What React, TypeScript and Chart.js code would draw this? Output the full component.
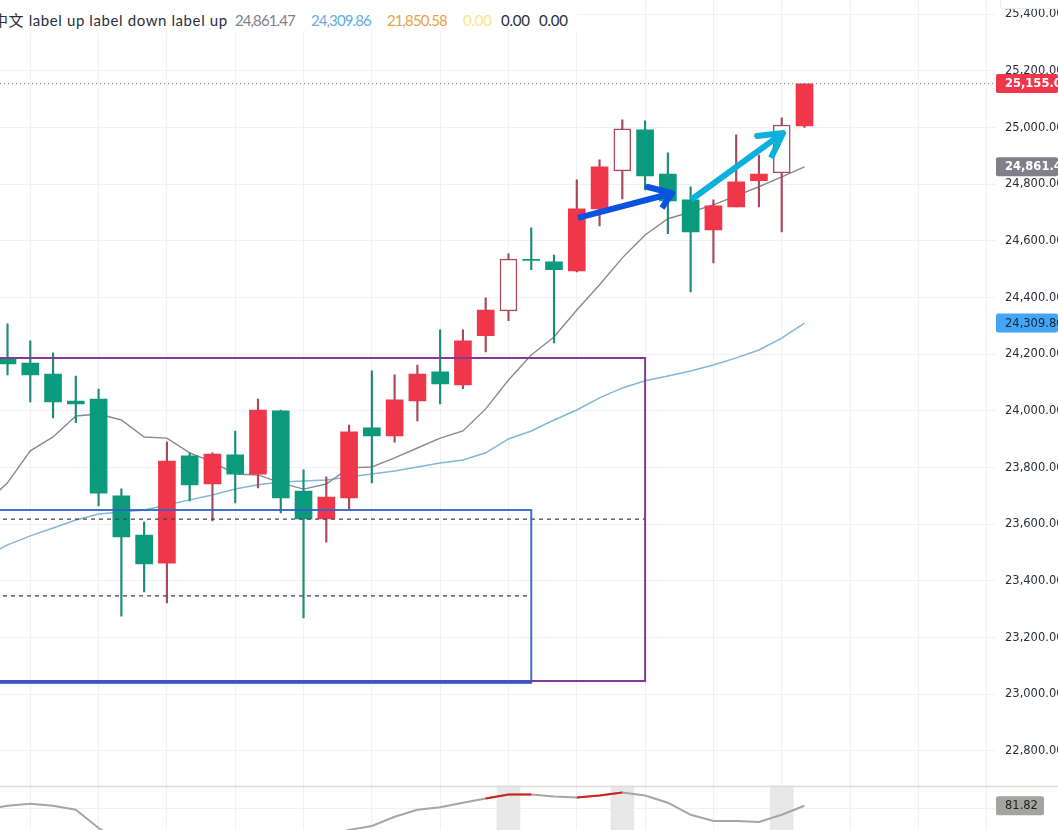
import React, { useEffect, useRef } from "react";
import Chart from "chart.js/auto";

// candles, oldest first
const opens = [24187, 24169, 24130, 24035, 24042, 23700, 23562, 23463, 23841, 23742, 23845, 23777, 24000, 23717, 23619, 23693, 23940, 23912, 24035, 24138, 24092, 24265, 24353, 24535, 24526, 24494, 24713, 24847, 24992, 24836, 24745, 24639, 24720, 24812, 24840, 25006];
const highs = [24307, 24247, 24205, 24123, 24077, 23725, 23608, 23890, 23852, 23852, 23929, 24042, 24003, 23792, 23767, 23950, 24141, 24127, 24162, 24286, 24286, 24399, 24554, 24646, 24550, 24815, 24886, 25027, 25024, 24911, 24791, 24745, 24974, 24903, 25034, 25155];
const lows = [24127, 24032, 23975, 23958, 23665, 23276, 23361, 23322, 23682, 23612, 23675, 23728, 23640, 23269, 23537, 23654, 23746, 23890, 23965, 24025, 24078, 24208, 24318, 24498, 24240, 24490, 24653, 24748, 24780, 24625, 24420, 24522, 24720, 24720, 24632, 25000];
const closes = [24166, 24127, 24032, 24025, 23710, 23555, 23460, 23823, 23739, 23848, 23777, 24003, 23693, 23619, 23696, 23926, 23912, 24039, 24130, 24095, 24247, 24356, 24536, 24531, 24498, 24713, 24861, 24995, 24829, 24741, 24632, 24724, 24808, 24836, 25009, 25154];
const hollowCandles = [22, 27, 34];

// these start one candle earlier (index -1), off the left edge
const maFast = [23672, 23746, 23859, 23908, 23982, 23989, 23968, 23908, 23904, 23852, 23820, 23777, 23774, 23746, 23724, 23742, 23799, 23802, 23834, 23869, 23904, 23929, 24007, 24109, 24197, 24261, 24356, 24445, 24540, 24621, 24678, 24702, 24727, 24759, 24791, 24826, 24861.47];
const maSlow = [23484, 23527, 23559, 23587, 23615, 23636, 23643, 23650, 23668, 23686, 23703, 23724, 23739, 23749, 23753, 23756, 23767, 23777, 23788, 23802, 23816, 23827, 23852, 23901, 23929, 23968, 24003, 24046, 24081, 24106, 24123, 24141, 24162, 24187, 24215, 24257, 24309.86];
const oscValues = [79.5, 81.8, 83, 81.8, 79.4, 68.5, 60, 55, 56.4, 52, 49, 52, 50.3, 55, 58, 64.3, 67.3, 69.7, 75.2, 79.4, 80.9, 83.6, 86.1, 88.5, 88.5, 87.3, 86.7, 87.9, 89.7, 87.9, 83.6, 76.4, 72.7, 72.7, 72.1, 76.4, 81.82];
const oscHot = [21, 22, 23, 25, 26, 27];

const gridIndices = [1, 4, 7, 10, 13, 16, 19, 22, 25, 28, 31, 34, 37, 40, 43];
const priceTicks = [25400, 25200, 25000, 24800, 24600, 24400, 24200, 24000, 23800, 23600, 23400, 23200, 23000, 22800];

// drawings on the chart, [candle index, price]
const purpleBox = [[-1, 24187], [28, 24187], [28, 23047], [-1, 23047]];
const blueBox = [[-1, 23650], [23, 23650], [23, 23041], [-1, 23041]];
const boxOverlap = [[-1, 23044], [23, 23044]];
const purpleMid = [[-0.2, 23618], [28, 23618]];
const blueMid = [[-0.2, 23347], [23, 23347]];
const blueArrow = [[25.05, 24681], [29.18, 24768], [28.12, 24790], [29.18, 24768], [28.74, 24716]];
const cyanArrow = [[30.02, 24745], [34.06, 24981], [32.92, 24970], [34.06, 24981], [33.53, 24893]];

const xMin = -0.33;
const xMax = 43.41;
const yMin = 22678;
const yMax = 25450;
const oscMin = 67.3;
const oscMax = 93.9;
const lastPrice = 25155;

const GREEN = "#0c9a7c";
const RED = "#f0364a";
const GREEN_WICK = "#1f8a76";
const RED_WICK = "#a64a5c";
const GRID = "#f0f1f4";
const AXIS_FONT = "'DejaVu Sans'";

const badges = [
  { axis: "y", value: 25155, text: "25,155.00", bg: "#f0364a", fg: "#ffffff", bold: true, w: 62 },
  { axis: "y", value: 24861.47, text: "24,861.47", bg: "#808088", fg: "#ffffff", bold: true, w: 62 },
  { axis: "y", value: 24309.86, text: "24,309.86", bg: "#42a5f5", fg: "#10263a", bold: false, w: 62 },
  { axis: "osc", value: 81.82, text: "81.82", bg: "#a3a39f", fg: "#222222", bold: false, w: 48 },
];

const toPoints = (pts: number[][]) => pts.map(([x, y]) => ({ x, y }));
const series = (vals: number[]) => vals.map((y, i) => ({ x: i - 1, y }));

// keep the plot flush with the canvas edges
const noPadding = (scale: any) => {
  scale.paddingTop = 0;
  scale.paddingBottom = 0;
  scale.paddingLeft = 0;
  scale.paddingRight = 0;
};

const paneChrome = {
  id: "paneChrome",
  afterDraw(chart: any) {
    const { ctx, chartArea } = chart;
    const sepY = Math.round(chart.scales.osc.top) + 0.5;
    ctx.save();
    ctx.strokeStyle = "#dcdcdc";
    ctx.lineWidth = 1.5;
    ctx.beginPath();
    ctx.moveTo(0, sepY);
    ctx.lineTo(chart.width, sepY);
    ctx.stroke();
    ctx.textBaseline = "middle";
    badges.forEach((b) => {
      const y = chart.scales[b.axis].getPixelForValue(b.value);
      ctx.fillStyle = b.bg;
      ctx.beginPath();
      ctx.roundRect(chartArea.right, y - 9.5, b.w, 19, 2);
      ctx.fill();
      ctx.fillStyle = b.fg;
      ctx.font = `${b.bold ? "bold " : ""}11.5px ${AXIS_FONT}`;
      ctx.fillText(b.text, chartArea.right + 9, y + 0.5);
    });
    ctx.restore();
  },
};

const App: React.FC = () => {
  const chartRef = useRef<HTMLCanvasElement | null>(null);

  useEffect(() => {
    if (!chartRef.current) return;
    const isUp = (i: number) => closes[i] >= opens[i];
    const isHollow = (i: number) => hollowCandles.includes(i);

    const lineBase = { type: "line", yAxisID: "y", pointRadius: 0, tension: 0, fill: false };

    const chart = new Chart(chartRef.current, {
      type: "bar",
      plugins: [paneChrome],
      data: {
        datasets: [
          {
            label: "bands",
            yAxisID: "osc",
            order: 12,
            grouped: false,
            barThickness: 23,
            backgroundColor: "#e8e8e8",
            data: hollowCandles.map((x) => ({ x, y: [oscMin, oscMax] })),
          },
          { ...lineBase, label: "ma slow", order: 11, borderColor: "#7fb8d8", borderWidth: 1.5, data: series(maSlow) },
          { ...lineBase, label: "ma fast", order: 10, borderColor: "#8a8a8a", borderWidth: 1.4, data: series(maFast) },
          {
            label: "wicks",
            yAxisID: "y",
            order: 9,
            grouped: false,
            barThickness: 1.5,
            backgroundColor: opens.map((_, i) => (isUp(i) ? RED_WICK : GREEN_WICK)),
            data: opens.map((_, i) => ({ x: i, y: [lows[i], highs[i]] })),
          },
          {
            label: "bodies",
            yAxisID: "y",
            order: 8,
            grouped: false,
            barThickness: 17,
            borderSkipped: false,
            backgroundColor: opens.map((_, i) => (isHollow(i) ? "#ffffff" : isUp(i) ? RED : GREEN)),
            borderColor: opens.map((_, i) => (isHollow(i) ? RED_WICK : isUp(i) ? RED : GREEN)),
            borderWidth: opens.map((_, i) => (isHollow(i) ? 1.5 : 0)),
            data: opens.map((_, i) => ({ x: i, y: [opens[i], closes[i]] })),
          },
          { ...lineBase, label: "purple mid", order: 7, borderColor: "#4a3f4e", borderWidth: 1.2, borderDash: [4, 4], data: toPoints(purpleMid) },
          { ...lineBase, label: "blue mid", order: 7, borderColor: "#4a3f4e", borderWidth: 1.2, borderDash: [4, 4], data: toPoints(blueMid) },
          { ...lineBase, label: "purple box", order: 6, borderColor: "#84389c", borderWidth: 2, data: toPoints(purpleBox) },
          { ...lineBase, label: "blue box", order: 5, borderColor: "rgba(46,98,200,0.9)", borderWidth: 2, data: toPoints(blueBox) },
          { ...lineBase, label: "box overlap", order: 5, borderColor: "#5b45c8", borderWidth: 3.5, data: toPoints(boxOverlap) },
          {
            ...lineBase,
            label: "last price",
            order: 4,
            borderColor: "#7a7a7a",
            borderWidth: 1,
            borderDash: [1, 3],
            data: toPoints([[xMin, lastPrice], [xMax, lastPrice]]),
          },
          { ...lineBase, label: "blue arrow", order: 2, borderColor: "#0a52e0", borderWidth: 6, borderJoinStyle: "round", data: toPoints(blueArrow) },
          { ...lineBase, label: "cyan arrow", order: 1, borderColor: "#0bb0dc", borderWidth: 6, borderJoinStyle: "round", data: toPoints(cyanArrow) },
          { ...lineBase, label: "osc", yAxisID: "osc", order: 3, borderColor: "#a8a5a2", borderWidth: 2, data: series(oscValues) },
          {
            ...lineBase,
            label: "osc hot",
            yAxisID: "osc",
            order: 2,
            borderColor: "#d61f1f",
            borderWidth: 2,
            spanGaps: false,
            data: series(oscValues).map((p) => ({ x: p.x, y: oscHot.includes(p.x) ? p.y : null })),
          },
        ],
      } as any,
      options: {
        animation: false,
        responsive: true,
        maintainAspectRatio: false,
        layout: { padding: 0, autoPadding: false },
        plugins: { legend: { display: false }, tooltip: { enabled: false } },
        scales: {
          x: {
            type: "linear",
            min: xMin,
            max: xMax,
            offset: false, // bar charts default to true, which shifts the grid and candles
            border: { display: false },
            grid: { color: GRID, drawTicks: false, offset: false },
            ticks: { display: false },
            afterBuildTicks: (scale: any) => {
              scale.ticks = gridIndices.map((value) => ({ value }));
            },
            afterFit: (scale: any) => {
              scale.height = 0;
              noPadding(scale);
            },
          },
          y: {
            position: "right",
            stack: "panes",
            stackWeight: 785.5,
            min: yMin,
            max: yMax,
            border: { display: false },
            grid: { color: GRID, drawTicks: false },
            ticks: {
              padding: 9,
              color: "#2a2e39",
              font: { family: AXIS_FONT, size: 11.5 },
              callback: (v: any) =>
                Number(v).toLocaleString("en-US", { minimumFractionDigits: 2, maximumFractionDigits: 2 }),
            },
            afterBuildTicks: (scale: any) => {
              scale.ticks = priceTicks.map((value) => ({ value }));
            },
            afterFit: (scale: any) => {
              scale.width = 62;
              noPadding(scale);
            },
          },
          osc: {
            position: "right",
            stack: "panes",
            stackWeight: 44.5,
            min: oscMin,
            max: oscMax,
            border: { display: false },
            grid: { color: GRID, drawTicks: false },
            ticks: { display: false },
            afterBuildTicks: (scale: any) => {
              scale.ticks = [{ value: 80 }];
            },
            afterFit: (scale: any) => {
              scale.width = 62;
              noPadding(scale);
            },
          },
        },
      } as any,
    });
    return () => chart.destroy();
  }, []);

  const legendFont = "Lato, 'Noto Sans CJK SC', sans-serif";
  const cell = (left: number, color: string, text: string, spacing: number) => (
    <span key={left} style={{ position: "absolute", left, top: 11, color, whiteSpace: "nowrap", letterSpacing: spacing }}>
      {text}
    </span>
  );

  return (
    <div style={{ position: "fixed", left: 0, top: 0, width: 1058, height: 830, background: "#fff", overflow: "hidden" }}>
      <canvas ref={chartRef} />
      <div style={{ position: "absolute", left: 0, top: 0, width: 577, height: 33, background: "#fff", fontFamily: legendFont, fontSize: 15, lineHeight: "18px" }}>
        {cell(-7, "#2a2e39", "中文 label up label down label up", 0.6)}
        {cell(235, "#808088", "24,861.47", -0.9)}
        {cell(311, "#62aee0", "24,309.86", -0.9)}
        {cell(387, "#e8a33c", "21,850.58", -0.9)}
        {cell(463, "#fbe38a", "0.00", -0.2)}
        {cell(501, "#2a2e39", "0.00", -0.2)}
        {cell(539, "#2a2e39", "0.00", -0.2)}
      </div>
      <div style={{ position: "absolute", left: 1000, top: -6, width: 70, height: 13, background: "#fff", border: "1px solid #ececec", borderRadius: 4 }} />
    </div>
  );
};

export default App;
